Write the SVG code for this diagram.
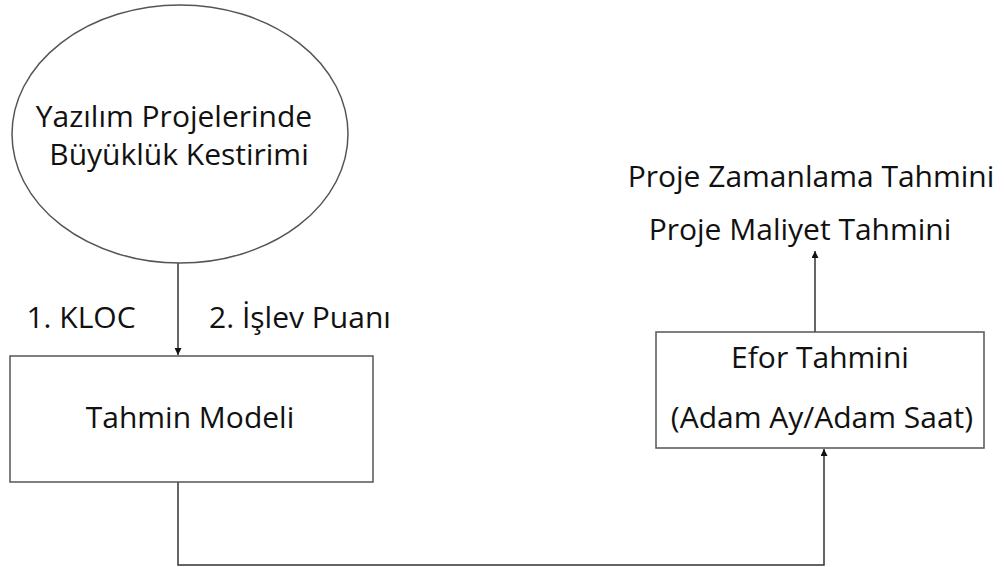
<svg xmlns="http://www.w3.org/2000/svg" width="1004" height="567" viewBox="0 0 1004 567">
<style>
.shape{fill:#fff;stroke:#555;stroke-width:1.5}
.t{font-family:"Open Sans","Noto Sans",sans-serif;font-size:30px;fill:#111;text-anchor:middle}
.c{fill:none;stroke:#333;stroke-width:1.5}
</style>
<defs>
<marker id="ah" viewBox="0 0 10 10" refX="10" refY="5" markerWidth="7" markerHeight="7" orient="auto" markerUnits="userSpaceOnUse">
<path d="M0,0 L10,5 L0,10 z" fill="#111"/>
</marker>
</defs>
<rect width="1004" height="567" fill="#fff"/>
<g id="connectors">
<path class="c" d="M178,263 V355" marker-end="url(#ah)"/>
<path class="c" d="M178,482 V565 H824 V449" marker-end="url(#ah)"/>
<path class="c" d="M815,332 V251" marker-end="url(#ah)"/>
</g>
<g id="node-buyukluk">
<ellipse class="shape" cx="180" cy="134" rx="168" ry="129"/>
<text class="t" x="174" y="127">Yazılım Projelerinde</text>
<text class="t" x="179" y="165">Büyüklük Kestirimi</text>
</g>
<g id="label-kloc"><text class="t" x="81" y="328">1. KLOC</text></g>
<g id="label-islev"><text class="t" x="300" y="328">2. İşlev Puanı</text></g>
<g id="node-tahmin">
<rect class="shape" x="10" y="356" width="363" height="126"/>
<text class="t" x="190" y="428">Tahmin Modeli</text>
</g>
<g id="node-efor">
<rect class="shape" x="656" y="332" width="328" height="116"/>
<text class="t" x="820" y="368">Efor Tahmini</text>
<text class="t" x="822" y="428">(Adam Ay/Adam Saat)</text>
</g>
<g id="node-output">
<text class="t" x="811" y="187">Proje Zamanlama Tahmini</text>
<text class="t" x="800" y="240">Proje Maliyet Tahmini</text>
</g>
</svg>
